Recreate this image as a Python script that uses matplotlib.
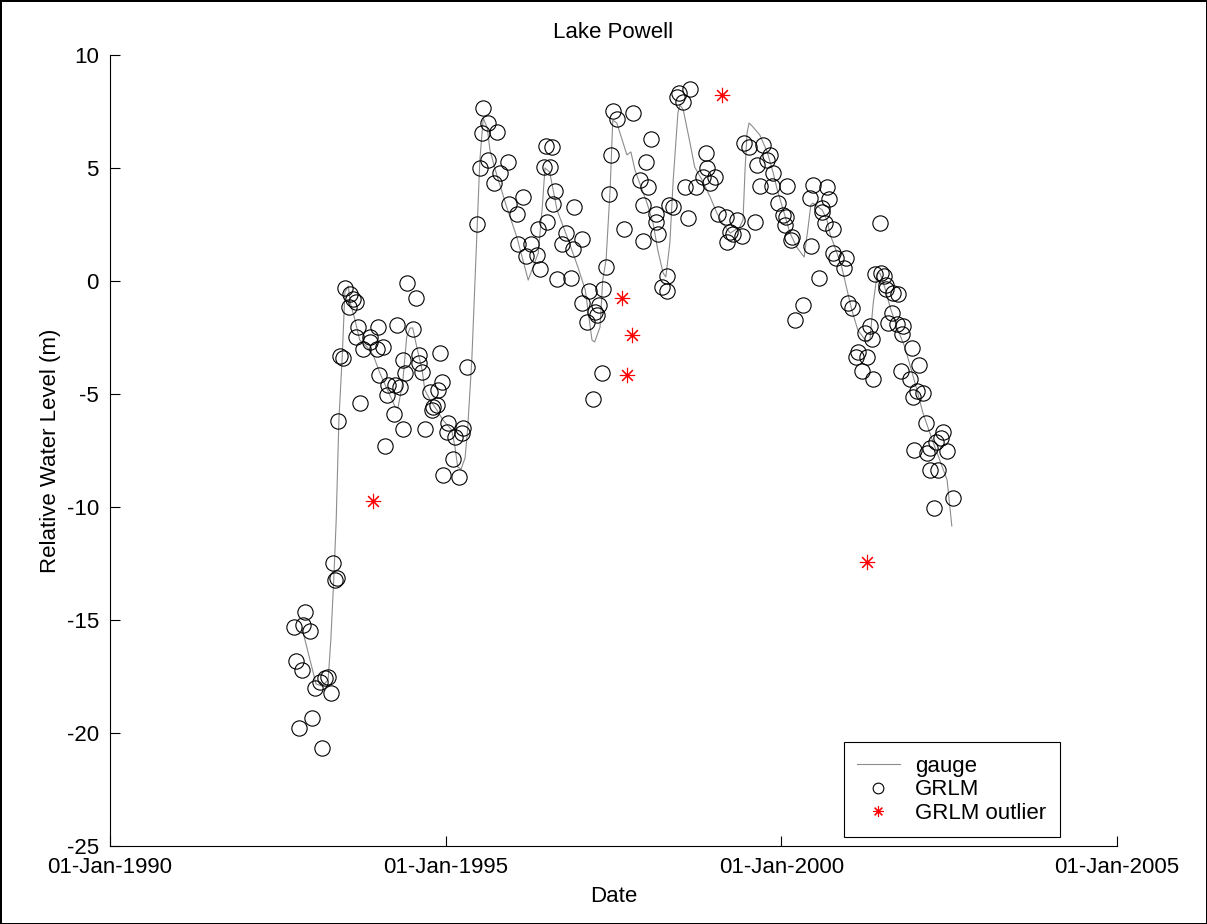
import matplotlib
matplotlib.use("Agg")
import matplotlib.pyplot as plt

plt.rcParams['font.family'] = ['Liberation Sans', 'DejaVu Sans']
plt.rcParams['axes.unicode_minus'] = False

# gauge record (decimal year, relative level in m)
gauge_t = [1992.86, 1993.07, 1993.16, 1993.25, 1993.29, 1993.34, 1993.37, 1993.41, 1993.46, 1993.50,
           1993.55, 1993.58, 1993.65, 1993.72, 1993.83, 1993.92, 1994.02, 1994.10, 1994.25, 1994.29,
           1994.36, 1994.42, 1994.47, 1994.51, 1994.57, 1994.65, 1994.69, 1994.77, 1994.87, 1994.96,
           1995.09, 1995.14, 1995.18, 1995.23, 1995.29, 1995.33, 1995.39, 1995.45, 1995.51, 1995.56,
           1995.62, 1995.66, 1995.74, 1995.91, 1996.06, 1996.23, 1996.38, 1996.44, 1996.48, 1996.55,
           1996.66, 1996.81, 1996.97, 1997.08, 1997.18, 1997.22, 1997.30, 1997.34, 1997.39, 1997.45,
           1997.49, 1997.55, 1997.63, 1997.70, 1997.76, 1997.82, 1997.90, 1998.00, 1998.09, 1998.16,
           1998.24, 1998.28, 1998.34, 1998.39, 1998.46, 1998.49, 1998.54, 1998.64, 1998.71, 1998.82,
           1998.94, 1999.04, 1999.12, 1999.24, 1999.38, 1999.43, 1999.46, 1999.49, 1999.52, 1999.58,
           1999.68, 1999.79, 1999.88, 1999.94, 2000.03, 2000.13, 2000.23, 2000.34, 2000.40, 2000.44,
           2000.47, 2000.61, 2000.68, 2000.73, 2000.83, 2000.90, 2000.98, 2001.05, 2001.14, 2001.25,
           2001.29, 2001.32, 2001.37, 2001.43, 2001.47, 2001.54, 2001.62, 2001.72, 2001.84, 2001.95,
           2002.02, 2002.11, 2002.25, 2002.36, 2002.47, 2002.54]
gauge_h = [-15.35, -17.83, -17.92, -17.65, -15.88, -12.79, -10.58, -6.15, -3.32, -0.49,
           -0.22, -0.97, -1.73, -2.61, -2.92, -3.27, -4.07, -4.60, -5.58, -5.62,
           -4.51, -2.48, -2.08, -2.08, -2.92, -3.94, -4.82, -5.27, -5.71, -6.15,
           -6.59, -7.35, -8.23, -8.32, -7.83, -6.46, -3.50, 0.93, 5.35, 7.21,
           6.77, 5.80, 4.91, 3.27, 1.95, 0.04, 1.24, 3.27, 5.00, 4.82,
           3.14, 1.95, 0.62, -0.40, -2.61, -2.70, -2.04, 0.04, 0.93, 4.03,
           7.12, 6.99, 6.24, 5.58, 5.71, 4.91, 4.25, 3.45, 2.57, 1.37,
           0.35, 0.18, 1.68, 4.47, 7.43, 7.79, 7.57, 6.11, 5.04, 4.47,
           3.72, 3.01, 2.57, 2.12, 2.39, 2.70, 4.91, 6.55, 6.99, 6.81,
           6.46, 5.71, 4.78, 4.03, 3.14, 2.12, 1.50, 1.06, 2.39, 3.36,
           3.45, 3.14, 2.70, 2.04, 1.24, 0.62, -0.40, -1.28, -2.17, -2.61,
           -2.70, -2.61, -0.97, 0.35, 0.35, -0.27, -1.15, -2.04, -2.92, -4.07,
           -4.82, -5.84, -7.04, -7.92, -8.81, -10.84]

# GRLM altimetry
grlm_t = [1992.74, 1992.77, 1992.82, 1992.86, 1992.88, 1992.90, 1992.98, 1993.01, 1993.05, 1993.13,
          1993.16, 1993.20, 1993.25, 1993.29, 1993.32, 1993.35, 1993.38, 1993.40, 1993.43, 1993.47,
          1993.50, 1993.56, 1993.58, 1993.62, 1993.66, 1993.66, 1993.69, 1993.72, 1993.77, 1993.87,
          1993.87, 1993.98, 1993.99, 1994.01, 1994.07, 1994.10, 1994.13, 1994.14, 1994.23, 1994.25,
          1994.28, 1994.32, 1994.36, 1994.36, 1994.39, 1994.42, 1994.51, 1994.56, 1994.60, 1994.60,
          1994.65, 1994.69, 1994.77, 1994.80, 1994.81, 1994.87, 1994.89, 1994.92, 1994.95, 1994.96,
          1995.02, 1995.04, 1995.11, 1995.14, 1995.20, 1995.24, 1995.26, 1995.32, 1995.47, 1995.51,
          1995.54, 1995.56, 1995.63, 1995.63, 1995.72, 1995.77, 1995.81, 1995.93, 1995.94, 1996.06,
          1996.08, 1996.15, 1996.20, 1996.27, 1996.36, 1996.38, 1996.41, 1996.47, 1996.50, 1996.51,
          1996.55, 1996.58, 1996.60, 1996.63, 1996.66, 1996.73, 1996.79, 1996.87, 1996.90, 1996.91,
          1997.03, 1997.03, 1997.11, 1997.14, 1997.20, 1997.22, 1997.25, 1997.28, 1997.33, 1997.34,
          1997.39, 1997.43, 1997.46, 1997.49, 1997.55, 1997.66, 1997.79, 1997.90, 1997.94, 1997.94,
          1997.98, 1998.01, 1998.06, 1998.13, 1998.13, 1998.16, 1998.22, 1998.30, 1998.30, 1998.33,
          1998.39, 1998.45, 1998.48, 1998.54, 1998.57, 1998.61, 1998.64, 1998.73, 1998.83, 1998.88,
          1998.89, 1998.94, 1999.01, 1999.06, 1999.18, 1999.19, 1999.24, 1999.28, 1999.34, 1999.41,
          1999.44, 1999.52, 1999.61, 1999.64, 1999.68, 1999.73, 1999.79, 1999.83, 1999.86, 1999.88,
          1999.95, 2000.03, 2000.06, 2000.07, 2000.09, 2000.14, 2000.16, 2000.20, 2000.32, 2000.43,
          2000.44, 2000.47, 2000.56, 2000.61, 2000.61, 2000.65, 2000.68, 2000.71, 2000.77, 2000.77,
          2000.82, 2000.93, 2000.96, 2000.99, 2001.05, 2001.11, 2001.14, 2001.20, 2001.25, 2001.28,
          2001.32, 2001.35, 2001.37, 2001.40, 2001.47, 2001.49, 2001.53, 2001.56, 2001.56, 2001.59,
          2001.65, 2001.66, 2001.74, 2001.72, 2001.80, 2001.81, 2001.78, 2001.92, 2001.95, 2001.96,
          2001.98, 2002.02, 2002.05, 2002.11, 2002.16, 2002.17, 2002.22, 2002.22, 2002.27, 2002.30,
          2002.33, 2002.38, 2002.41, 2002.47, 2002.56]
grlm_h = [-15.31, -16.81, -19.78, -17.21, -15.22, -14.65, -15.49, -19.34, -18.01, -17.74,
          -20.66, -17.57, -17.52, -18.23, -12.48, -13.23, -13.14, -6.19, -3.32, -3.41,
          -0.31, -1.15, -0.58, -0.80, -0.93, -2.48, -2.04, -5.40, -3.01, -2.48,
          -2.70, -3.01, -2.04, -4.16, -2.92, -7.30, -5.04, -4.60, -5.88, -4.60,
          -1.95, -4.69, -3.50, -6.55, -4.07, -0.09, -2.12, -0.75, -3.27, -3.63,
          -4.03, -6.55, -4.91, -5.71, -5.58, -5.49, -4.82, -3.19, -4.47, -8.58,
          -6.68, -6.28, -7.88, -6.90, -8.67, -6.73, -6.50, -3.81, 2.52, 5.00,
          6.55, 7.65, 6.99, 5.35, 4.34, 6.59, 4.78, 5.27, 3.41, 2.96,
          1.64, 3.72, 1.11, 1.64, 1.15, 2.30, 0.53, 5.04, 5.97, 2.61,
          5.04, 5.93, 3.41, 3.98, 0.09, 1.64, 2.12, 0.13, 1.42, 3.27,
          1.86, -0.97, -1.81, -0.44, -5.22, -1.37, -1.50, -1.06, -4.07, -0.35,
          0.62, 3.85, 5.58, 7.52, 7.17, 2.30, 7.43, 4.47, 3.36, 1.77,
          5.27, 4.16, 6.28, 2.96, 2.61, 2.08, -0.27, 0.22, -0.44, 3.36,
          3.27, 8.14, 8.32, 7.92, 4.16, 2.79, 8.50, 4.16, 4.60, 5.66,
          5.00, 4.34, 4.60, 2.96, 2.83, 1.73, 2.17, 2.08, 2.70, 1.99,
          6.11, 5.93, 2.61, 5.13, 4.20, 6.02, 5.35, 5.58, 4.20, 4.78,
          3.45, 2.92, 2.48, 2.83, 4.20, 1.81, 1.95, -1.73, -1.06, 3.67,
          1.55, 4.25, 0.13, 3.23, 3.05, 2.57, 4.16, 3.63, 2.30, 1.24,
          1.02, 0.58, 1.02, -0.97, -1.19, -3.36, -3.14, -3.98, -2.30, -3.36,
          -1.99, -2.57, -4.34, 0.31, 2.57, 0.35, 0.22, -0.18, -0.35, -1.86,
          -1.42, -0.53, -0.58, -1.90, -2.35, -1.99, -3.98, -4.34, -2.96, -5.13,
          -7.48, -4.87, -3.72, -4.96, -6.28, -7.61, -7.39, -8.36, -10.04, -7.12,
          -8.36, -6.95, -6.68, -7.52, -9.60]

# GRLM points flagged as outliers
out_t = [1993.92, 1997.63, 1997.70, 1997.78, 1999.12, 2001.28]
out_h = [-9.73, -0.75, -4.16, -2.39, 8.23, -12.43]

xtick_years = [1990, 1995, 2000, 2005]
xtick_labels = ['01-Jan-%d' % y for y in xtick_years]

fig = plt.figure(figsize=(12.07, 9.24), dpi=100)
fig.patch.set_edgecolor('black')
fig.patch.set_linewidth(2)
ax = fig.add_axes([0.0911, 0.0844, 0.8343, 0.8561])

ax.plot(gauge_t, gauge_h, '-', color='#8c8c8c', linewidth=0.8, label='gauge')
ax.plot(grlm_t, grlm_h, 'o', mfc='none', mec='black', ms=11, mew=0.8, label='GRLM')
ax.plot(out_t, out_h, linestyle='none', marker=(8, 2, 0), color='red', ms=11, mew=0.8,
        label='GRLM outlier')

ax.set_xlim(1990, 2005)
ax.set_ylim(-25, 10)
ax.set_xticks(xtick_years)
ax.set_xticklabels(xtick_labels)
ax.set_yticks(range(-25, 11, 5))
ax.tick_params(direction='in', length=7, width=0.8, labelsize=16, pad=8)
ax.spines['top'].set_visible(False)
ax.spines['right'].set_visible(False)

ax.set_title('Lake Powell', fontsize=16, pad=12)
ax.set_xlabel('Date', fontsize=16, labelpad=6)
ax.set_ylabel('Relative Water Level (m)', fontsize=16, labelpad=4)

leg = ax.legend(loc='lower right', bbox_to_anchor=(0.943, 0.011), borderaxespad=0,
                fontsize=16, fancybox=False, framealpha=1, edgecolor='black',
                markerscale=0.7, labelspacing=0.12, handlelength=1.9,
                handletextpad=0.7, borderpad=0.6)
leg.get_frame().set_linewidth(0.8)

fig.savefig('out.png', dpi=100)
